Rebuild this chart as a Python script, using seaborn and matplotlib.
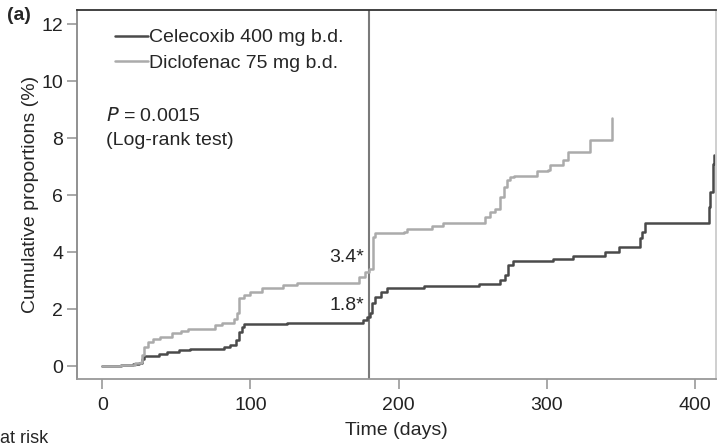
import pandas as pd
import matplotlib
matplotlib.use("Agg")
import matplotlib.pyplot as plt
import seaborn as sns

# Kaplan-Meier style cumulative proportions
cel_days = [0, 13, 21, 25, 27, 28, 38, 44, 52, 59, 82, 86, 90, 92, 94, 96, 125, 150, 176, 178.5,
            181, 182, 184, 188, 192, 197, 217, 254, 268.5, 272, 274, 277.5, 304, 318, 339, 349,
            363, 364.5, 366.5, 409.5, 410.5, 412, 412.5, 413]
cel_vals = [0, 0.05, 0.07, 0.12, 0.25, 0.37, 0.41, 0.5, 0.56, 0.6, 0.68, 0.76, 0.91, 1.2, 1.36, 1.47,
            1.5, 1.53, 1.61, 1.73, 1.85, 2.2, 2.43, 2.61, 2.73, 2.76, 2.81, 2.88, 3.02, 3.19, 3.54,
            3.68, 3.77, 3.88, 4.02, 4.19, 4.48, 4.71, 5.04, 5.59, 6.12, 6.82, 7.1, 7.4]

dic_days = [0, 13, 22, 26, 27, 28, 31, 34, 39, 47, 53, 58, 76, 81, 89, 91, 92, 95.5, 100, 108,
            122, 131.5, 173, 177.5, 180, 182.5, 184, 203.5, 206, 222.5, 230, 258, 262, 265, 268.6,
            271, 273, 275.5, 278, 293.5, 301, 302.5, 311, 314.5, 329, 344]
dic_vals = [0, 0.05, 0.1, 0.15, 0.4, 0.68, 0.85, 0.94, 1.02, 1.15, 1.23, 1.3, 1.44, 1.52, 1.67, 1.85,
            2.38, 2.49, 2.61, 2.73, 2.84, 2.92, 3.13, 3.3, 3.4, 4.54, 4.68, 4.71, 4.8, 4.92, 5.04,
            5.24, 5.41, 5.53, 5.94, 6.3, 6.53, 6.62, 6.68, 6.83, 6.88, 7.05, 7.23, 7.52, 7.93, 8.69]

series_names = ["Celecoxib 400 mg b.d.", "Diclofenac 75 mg b.d."]
x_ticks = [0, 100, 200, 300, 400]
y_ticks = [0, 2, 4, 6, 8, 10, 12]
landmark_day = 180
landmark_labels = ["1.8*", "3.4*"]

df = pd.concat([
    pd.DataFrame({"day": cel_days, "pct": cel_vals, "arm": series_names[0]}),
    pd.DataFrame({"day": dic_days, "pct": dic_vals, "arm": series_names[1]}),
])

sns.set_style("white")
plt.rcParams["font.family"] = ["Liberation Sans", "DejaVu Sans"]
fs = 14

fig = plt.figure(figsize=(7.2, 4.48), dpi=100)
ax = fig.add_axes([0.107, 0.154, 0.887, 0.824])

palette = {series_names[0]: "#4a4a4a", series_names[1]: "#ababab"}
sns.lineplot(data=df, x="day", y="pct", hue="arm", palette=palette, estimator=None,
             sort=False, drawstyle="steps-post", linewidth=1.8, ax=ax)

ax.axvline(landmark_day, color="#7a7a7a", linewidth=1.5, zorder=0)

ax.set_xlim(-17, 414)
ax.set_ylim(-0.45, 12.5)
ax.set_xticks(x_ticks)
ax.set_yticks(y_ticks)
ax.tick_params(axis="both", bottom=True, left=True, direction="out", length=7, width=1.2,
               color="#999999", labelcolor="#222222", labelsize=fs, pad=3)
ax.tick_params(axis="x", pad=6)
ax.set_xlabel("Time (days)", fontsize=fs, labelpad=6)
ax.set_ylabel("Cumulative proportions (%)", fontsize=fs, labelpad=2)

for side, col in [("top", "#333333"), ("left", "#888888"), ("right", "#cccccc"), ("bottom", "#999999")]:
    ax.spines[side].set_color(col)
    ax.spines[side].set_linewidth(1.3)

ax.legend(loc="upper left", bbox_to_anchor=(0.047, 0.97), frameon=False, fontsize=fs,
          handlelength=1.7, handletextpad=0.05, labelspacing=0.42, borderaxespad=0)

ax.text(0.045, 0.712, "$P$ = 0.0015", transform=ax.transAxes, fontsize=fs, va="center")
ax.text(0.045, 0.647, "(Log-rank test)", transform=ax.transAxes, fontsize=fs, va="center")

ax.text(landmark_day - 3, 3.8, landmark_labels[1], ha="right", va="center", fontsize=fs)
ax.text(landmark_day - 3, 2.14, landmark_labels[0], ha="right", va="center", fontsize=fs)

fig.text(0.01, 1 - 16 / 448, "(a)", fontsize=fs, fontweight="bold", va="center")
fig.text(0.0, 1 - 430 / 448, "at risk", fontsize=13, va="top")

plt.savefig("out.png", dpi=100)
